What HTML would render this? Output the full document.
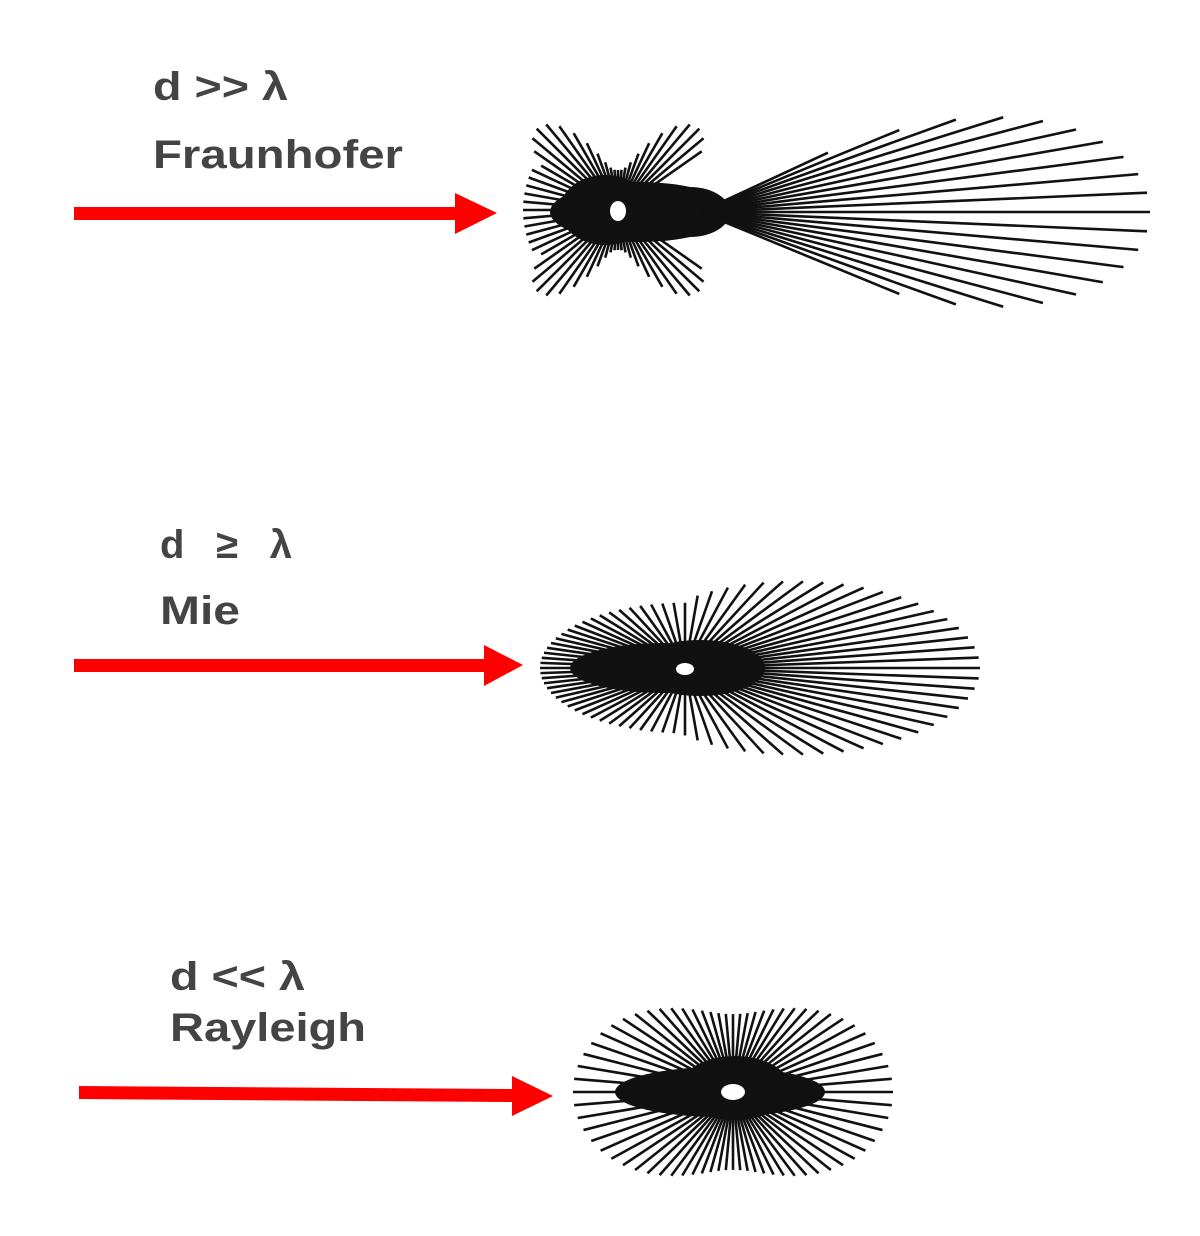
<!DOCTYPE html>
<html><head><meta charset="utf-8"><style>
html,body{margin:0;padding:0;background:#fff;}
svg{display:block;}
text{font-family:"Liberation Sans",sans-serif;font-weight:bold;fill:#444;}
</style></head><body>
<svg id="s" width="1200" height="1236" viewBox="0 0 1200 1236" xmlns="http://www.w3.org/2000/svg">
<text x="153" y="100" font-size="40" textLength="135" lengthAdjust="spacingAndGlyphs">d &gt;&gt; λ</text>
<text x="153" y="168" font-size="40" textLength="250" lengthAdjust="spacingAndGlyphs">Fraunhofer</text>
<text x="160" y="558" font-size="40" textLength="132" lengthAdjust="spacing">d  ≥  λ</text>
<text x="160" y="624" font-size="40" textLength="80" lengthAdjust="spacingAndGlyphs">Mie</text>
<text x="170" y="990" font-size="40" textLength="135" lengthAdjust="spacingAndGlyphs">d &lt;&lt; λ</text>
<text x="170" y="1041" font-size="40" textLength="196" lengthAdjust="spacingAndGlyphs">Rayleigh</text>
<g fill="#f00" stroke="none">
<rect x="74" y="207" width="384" height="13"/><polygon points="455,193 497,213 455,234"/>
<rect x="74" y="659" width="414" height="13"/><polygon points="484,645 523,665 484,686"/>
<polygon points="79,1086 516,1089 516,1102 79,1099"/><polygon points="512,1076 553,1096 512,1116"/>
</g>
<g id="rays" stroke="#111" stroke-width="2.6" fill="#111"></g>
</svg>
<script>
var g=document.getElementById('rays'),NS='http://www.w3.org/2000/svg';
function L(x1,y1,x2,y2){var l=document.createElementNS(NS,'line');l.setAttribute('x1',x1);l.setAttribute('y1',y1);l.setAttribute('x2',x2);l.setAttribute('y2',y2);g.appendChild(l);}
function E(cx,cy,rx,ry,f){var e=document.createElementNS(NS,'ellipse');e.setAttribute('cx',cx);e.setAttribute('cy',cy);e.setAttribute('rx',rx);e.setAttribute('ry',ry);e.setAttribute('fill',f||'#111');e.setAttribute('stroke','none');g.appendChild(e);}
var D=Math.PI/180;
// Fraunhofer
(function(){var cx=618,cy=210;
E(640,212,90,30);E(605,210,45,35);E(690,212,40,25);
for(var a=-26;a<=26;a+=2.6){var t=a*D;var len=410*Math.pow(Math.max(0,1-Math.pow(a/28,2)),0.7)+40;L(700,212,700+len*Math.cos(t),212+len*Math.sin(t)*0.95);}
for(var a=0;a<360;a+=5){var t=a*D;var d=Math.abs(((a+180)%360)-180);var r;
 if(d<35) continue;
 var m=Math.abs(Math.sin(2*t));r=40+75*Math.pow(m,3);
 if(d>150) r=95;
 L(cx,cy,cx+r*Math.cos(t),cy+r*Math.sin(t));}
E(618,211,8,10,'#fff');})();
// Mie
(function(){var cx=685,cy=668;
E(665,668,95,25);E(700,668,65,28);
for(var a=0;a<360;a+=4.5){var t=a*D;var c=Math.cos(t),s=Math.sin(t);var r=c>0?150+145*c:145;
 L(cx,cy,cx+r*c,cy+r*s*0.45);}
E(685,669,9,6,'#fff');})();
// Rayleigh
(function(){var cx=733,cy=1092;
E(720,1092,105,25);E(735,1088,55,32);
for(var a=0;a<360;a+=5){var t=a*D;var c=Math.cos(t),s=Math.sin(t);var r=82+78*c*c;
 L(cx,cy,cx+r*c,cy+r*s*0.95);}
E(733,1092,12,8,'#fff');})();
</script>
</body></html>
